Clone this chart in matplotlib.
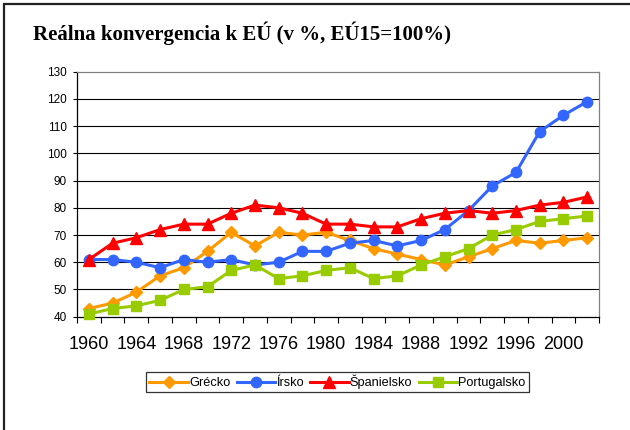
import matplotlib
matplotlib.use("Agg")
import matplotlib.pyplot as plt
from matplotlib.patches import Rectangle
import numpy as np

years = list(range(1960, 2003, 2))
grecko = [43, 45, 49, 55, 58, 64, 71, 66, 71, 70, 71, 68, 65, 63, 61, 59, 62, 65, 68, 67, 68, 69]
irsko = [61, 61, 60, 58, 61, 60, 61, 59, 60, 64, 64, 67, 68, 66, 68, 72, 79, 88, 93, 108, 114, 119]
spanielsko = [61, 67, 69, 72, 74, 74, 78, 81, 80, 78, 74, 74, 73, 73, 76, 78, 79, 78, 79, 81, 82, 84]
portugalsko = [41, 43, 44, 46, 50, 51, 57, 59, 54, 55, 57, 58, 54, 55, 59, 62, 65, 70, 72, 75, 76, 77]
series_names = ["Grécko", "Írsko", "Španielsko", "Portugalsko"]
y_ticks = list(range(40, 131, 10))
title = "Reálna konvergencia k EÚ (v %, EÚ15=100%)"

W, H = 630, 430
fig = plt.figure(figsize=(W / 100, H / 100), dpi=100)
fig.patch.set_facecolor("white")

left, right, top, bottom = 77, 599, 71.7, 316.7
ax = fig.add_axes([left / W, 1 - bottom / H, (right - left) / W, (bottom - top) / H])

x = np.arange(len(years))
styles = [
    dict(color="#FF9900", marker="D", markersize=6.5),
    dict(color="#3366FF", marker="o", markersize=7.5),
    dict(color="#FF0000", marker="^", markersize=8.5),
    dict(color="#99CC00", marker="s", markersize=7.5),
]
for name, vals, st in zip(series_names, [grecko, irsko, spanielsko, portugalsko], styles):
    ax.plot(x, vals, label=name, linewidth=2.2, color=st["color"], marker=st["marker"],
            markersize=st["markersize"], markerfacecolor=st["color"], markeredgecolor=st["color"],
            clip_on=False, zorder=3)

ax.set_xlim(-0.5, len(years) - 0.5)
ax.set_ylim(40, 130)
ax.set_yticks(y_ticks)
ax.set_yticklabels([str(v) for v in y_ticks], fontsize=8.5, fontfamily="Liberation Sans")
ax.tick_params(axis="y", direction="out", length=3, width=0.8, pad=4.5, color="black")

ax.set_xticks(x[::2])
ax.set_xticklabels([str(y) for y in years[::2]], fontsize=13, fontfamily="Liberation Sans")
ax.set_xticks(np.arange(-0.5, len(years), 1), minor=True)
ax.tick_params(axis="x", which="major", length=0, pad=14)
ax.tick_params(axis="x", which="minor", direction="out", length=4, width=0.8, color="black")

for yv in y_ticks[1:-1]:
    ax.axhline(yv, color="black", linewidth=0.8, zorder=1)

ax.spines["left"].set_color("black")
ax.spines["bottom"].set_color("black")
ax.spines["top"].set_color("#808080")
ax.spines["right"].set_color("#808080")
for s in ax.spines.values():
    s.set_linewidth(0.9)

fig.text(33 / W, 1 - 33 / H, title, fontsize=15, fontweight="bold",
         fontfamily="Liberation Serif", ha="left", va="center")

leg = fig.legend(loc="center", bbox_to_anchor=(337.5 / W, 1 - 382 / H), ncol=4,
                 prop={"family": "Liberation Sans", "size": 9.2},
                 frameon=True, fancybox=False, edgecolor="black",
                 handlelength=3.0, handletextpad=0.1, columnspacing=0.5,
                 borderpad=0.25, borderaxespad=0)
leg.get_frame().set_linewidth(0.9)

fig.patches.append(Rectangle((4 / W, -0.5), 2, 1.5 - 4 / H, transform=fig.transFigure,
                             fill=False, edgecolor="#222222", linewidth=1.6))

fig.savefig("out.png", dpi=100)
